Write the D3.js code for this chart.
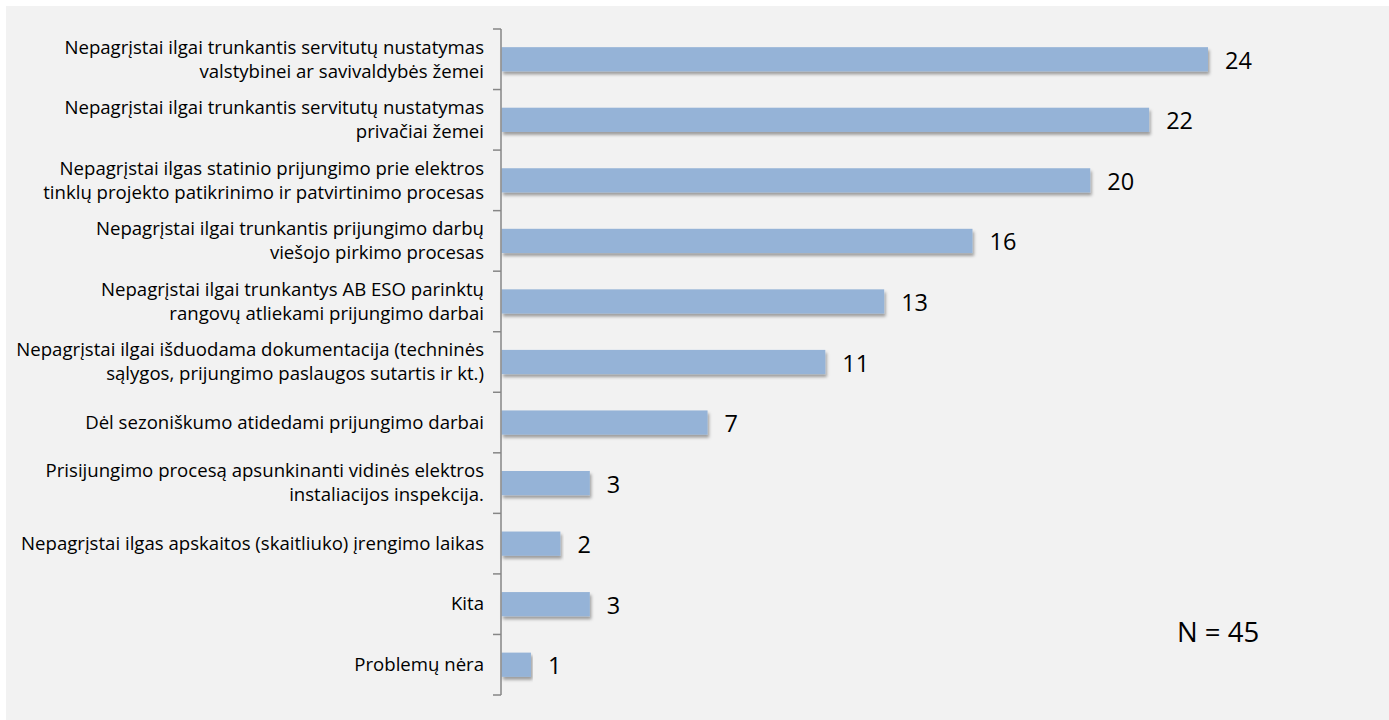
<!DOCTYPE html>
<html>
<head>
<meta charset="utf-8">
<script src="https://cdn.jsdelivr.net/npm/d3@7/dist/d3.min.js"></script>
<style>
  html, body { margin: 0; padding: 0; background: #ffffff; }
  svg { display: block; }
  text { font-family: "Open Sans", "Noto Sans", sans-serif; fill: #000; }
</style>
</head>
<body>
<svg id="chart" width="1389" height="720"></svg>
<script>
const categories = [
  "Nepagrįstai ilgai trunkantis servitutų nustatymas\nvalstybinei ar savivaldybės žemei",
  "Nepagrįstai ilgai trunkantis servitutų nustatymas\nprivačiai žemei",
  "Nepagrįstai ilgas statinio prijungimo prie elektros\ntinklų projekto patikrinimo ir patvirtinimo procesas",
  "Nepagrįstai ilgai trunkantis prijungimo darbų\nviešojo pirkimo procesas",
  "Nepagrįstai ilgai trunkantys AB ESO parinktų\nrangovų atliekami prijungimo darbai",
  "Nepagrįstai ilgai išduodama dokumentacija (techninės\nsąlygos, prijungimo paslaugos sutartis ir kt.)",
  "Dėl sezoniškumo atidedami prijungimo darbai",
  "Prisijungimo procesą apsunkinanti vidinės elektros\ninstaliacijos inspekcija.",
  "Nepagrįstai ilgas apskaitos (skaitliuko) įrengimo laikas",
  "Kita",
  "Problemų nėra"
];
const values = [24, 22, 20, 16, 13, 11, 7, 3, 2, 3, 1];
const noteText = "N = 45";

const svg = d3.select("#chart");
const W = 1389, H = 720;

svg.append("rect").attr("x", 6).attr("y", 6).attr("width", W - 6).attr("height", H - 6).attr("fill", "#f2f2f2");

const defs = svg.append("defs");
const f = defs.append("filter").attr("id", "shadow").attr("x", "-5%").attr("y", "-30%").attr("width", "110%").attr("height", "180%");
f.append("feDropShadow").attr("dx", 1.5).attr("dy", 3).attr("stdDeviation", 1.8).attr("flood-color", "#000").attr("flood-opacity", 0.35);

const axisX = 501;
const x = d3.scaleLinear().domain([0, 24]).range([axisX + 0.5, 1208]);
const y = d3.scaleBand().domain(categories).range([29, 695]).paddingInner(0.6).paddingOuter(0.3);
const yb = d3.scaleBand().domain(categories).range([29, 695]);

// bars
svg.append("g").selectAll("rect").data(categories).join("rect")
  .attr("x", x(0))
  .attr("y", d => y(d))
  .attr("width", (d, i) => x(values[i]) - x(0))
  .attr("height", y.bandwidth())
  .attr("fill", "#95b3d7")
  .attr("filter", "url(#shadow)");

// axis line and ticks
const ax = svg.append("g").attr("stroke", "#868686").attr("stroke-width", 1.5);
ax.append("line").attr("x1", axisX).attr("x2", axisX).attr("y1", yb.range()[0]).attr("y2", yb.range()[1]);
const tickYs = categories.map(c => yb(c)).concat([yb.range()[1]]);
ax.selectAll("line.t").data(tickYs).join("line").attr("class", "t")
  .attr("x1", axisX - 8).attr("x2", axisX).attr("y1", d => d).attr("y2", d => d);

// category labels
const lab = svg.append("g").selectAll("text").data(categories).join("text")
  .attr("text-anchor", "end")
  .attr("font-size", 18.6)
  .attr("x", 484)
  .attr("y", d => yb(d) + yb.bandwidth() / 2);
const lineH = 24;
lab.each(function(d) {
  const lines = d.split("\n");
  const t = d3.select(this);
  const off = -(lines.length - 1) * lineH / 2 + 6.3;
  lines.forEach((ln, k) => {
    t.append("tspan").attr("x", 484).attr("dy", k === 0 ? off : lineH).text(ln);
  });
});

// value labels
svg.append("g").selectAll("text").data(categories).join("text")
  .attr("font-size", 23.5)
  .attr("x", (d, i) => x(values[i]) + 17)
  .attr("y", d => yb(d) + yb.bandwidth() / 2 + 9.5)
  .text((d, i) => values[i]);

svg.append("text").attr("x", 1177).attr("y", 642).attr("font-size", 27.5).text(noteText);
</script>
</body>
</html>
